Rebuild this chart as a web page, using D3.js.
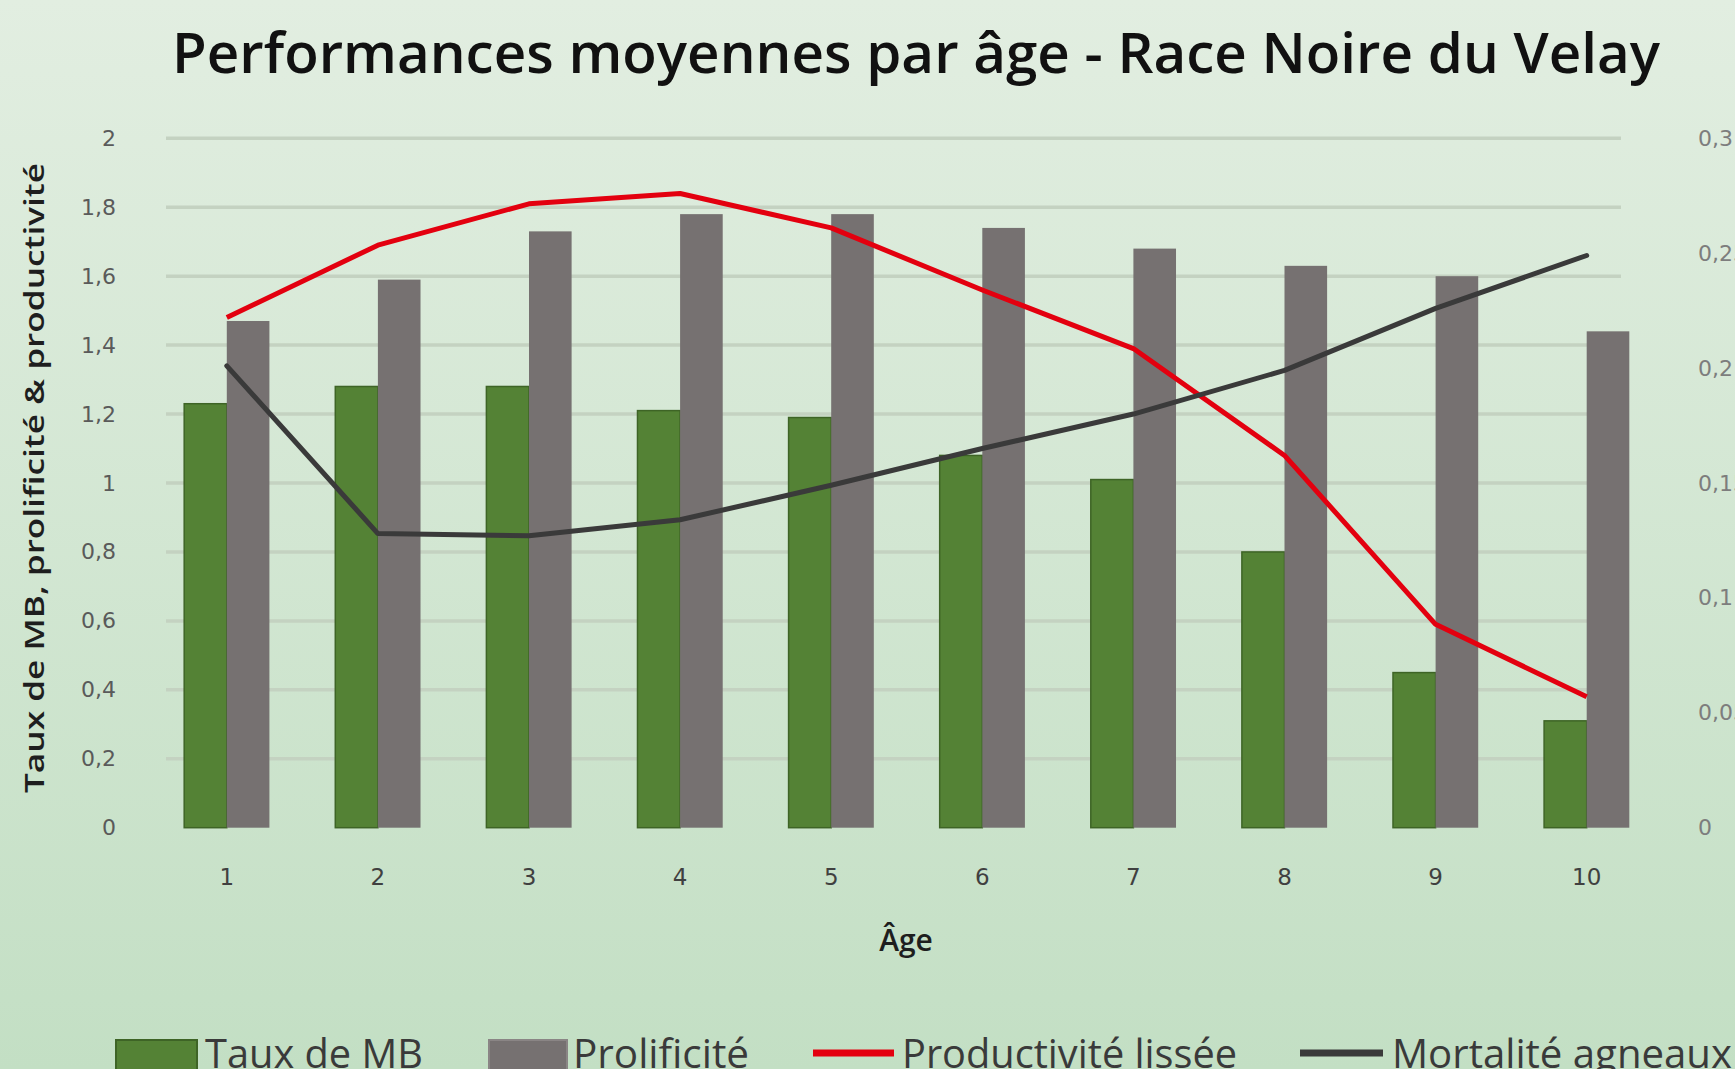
<!DOCTYPE html>
<html>
<head>
<meta charset="utf-8">
<script src="https://cdn.jsdelivr.net/npm/d3@7"></script>
<style>
  html, body { margin: 0; padding: 0; overflow: hidden; }
  svg { display: block; }
</style>
</head>
<body>
<svg id="chart" width="1735" height="1069"></svg>
<script>
// ---- data ----
const ages = ["1","2","3","4","5","6","7","8","9","10"];
const tauxMB = [1.23, 1.28, 1.28, 1.21, 1.19, 1.08, 1.01, 0.80, 0.45, 0.31];
const prolificite = [1.47, 1.59, 1.73, 1.78, 1.78, 1.74, 1.68, 1.63, 1.60, 1.44];
const productiviteLissee = [1.48, 1.69, 1.81, 1.84, 1.74, 1.56, 1.39, 1.08, 0.59, 0.38];
const mortaliteAgneaux = [0.201, 0.128, 0.127, 0.134, 0.149, 0.165, 0.180, 0.199, 0.226, 0.249];
const leftTicks = [0, 0.2, 0.4, 0.6, 0.8, 1, 1.2, 1.4, 1.6, 1.8, 2];
const rightTicks = [0, 0.05, 0.1, 0.15, 0.2, 0.25, 0.3];
const seriesNames = ["Taux de MB", "Prolificité", "Productivité lissée", "Mortalité agneaux"];
const title = "Performances moyennes par âge - Race Noire du Velay";
const yTitle = "Taux de MB, prolificité & productivité";
const xTitle = "Âge";

// ---- layout ----
const W = 1735, H = 1069;
const plotTop = 138.3, plotBottom = 827.7;
const gridX0 = 166, gridX1 = 1621;
const colGreen = "#548235", colGreenEdge = "#3e6426", colGrey = "#767171";
const colRed = "#e3000f", colBlack = "#3a3a3a";

const svg = d3.select("#chart");
const defs = svg.append("defs");
const grad = defs.append("linearGradient").attr("id","bg").attr("x1",0).attr("y1",0).attr("x2",0).attr("y2",1);
grad.append("stop").attr("offset","0%").attr("stop-color","#e2eee1");
grad.append("stop").attr("offset","100%").attr("stop-color","#c3dfc4");
svg.append("rect").attr("width",W).attr("height",H).attr("fill","url(#bg)");

const locale = d3.formatLocale({decimal: ",", thousands: " ", grouping: [3], currency: ["", " €"]});
const fmtL = locale.format(".1~f");
const fmtR = locale.format(".2~f");

const x0 = d3.scaleBand().domain(ages).range([151.25, 1662.25]).paddingInner(0.436).paddingOuter(0.218);
const x1 = d3.scaleBand().domain(["mb","prol"]).range([0, x0.bandwidth()]);
const yL = d3.scaleLinear().domain([0, 2]).range([plotBottom, plotTop]);
const yR = d3.scaleLinear().domain([0, 0.3]).range([plotBottom, plotTop]);

// gridlines
svg.append("g").selectAll("line").data(leftTicks.filter(v => v > 0)).join("line")
  .attr("x1", gridX0).attr("x2", gridX1)
  .attr("y1", d => yL(d)).attr("y2", d => yL(d))
  .attr("stroke", "#c4d2c1").attr("stroke-width", 3.5);

// bars
const groups = svg.append("g").selectAll("g").data(ages).join("g")
  .attr("transform", d => `translate(${x0(d)},0)`);
groups.append("rect")
  .attr("x", x1("mb")).attr("width", x1.bandwidth())
  .attr("y", (d,i) => yL(tauxMB[i])).attr("height", (d,i) => yL(0) - yL(tauxMB[i]))
  .attr("fill", colGreen).attr("stroke", colGreenEdge).attr("stroke-width", 1.5);
groups.append("rect")
  .attr("x", x1("prol")).attr("width", x1.bandwidth())
  .attr("y", (d,i) => yL(prolificite[i])).attr("height", (d,i) => yL(0) - yL(prolificite[i]))
  .attr("fill", colGrey);

// lines
const cx = a => x0(a) + x0.bandwidth() / 2;
const lineL = d3.line().x((d,i) => cx(ages[i])).y(d => yL(d));
const lineR = d3.line().x((d,i) => cx(ages[i])).y(d => yR(d));
svg.append("path").datum(productiviteLissee).attr("d", lineL)
  .attr("fill","none").attr("stroke", colRed).attr("stroke-width", 5).attr("stroke-linejoin","round");
svg.append("path").datum(mortaliteAgneaux).attr("d", lineR)
  .attr("fill","none").attr("stroke", colBlack).attr("stroke-width", 5).attr("stroke-linejoin","round").attr("stroke-linecap","round");

// axes
const axL = svg.append("g").attr("transform","translate(116,0)")
  .call(d3.axisLeft(yL).tickValues(leftTicks).tickFormat(fmtL).tickSize(0).tickPadding(0));
axL.select(".domain").remove();
axL.selectAll("text").attr("font-family","DejaVu Sans").attr("font-size",22).attr("fill","#5a5a5a");

const axR = svg.append("g").attr("transform","translate(1698,0)")
  .call(d3.axisRight(yR).tickValues(rightTicks).tickFormat(fmtR).tickSize(0).tickPadding(0));
axR.select(".domain").remove();
axR.selectAll("text").attr("font-family","DejaVu Sans").attr("font-size",22).attr("fill","#7d7d7d");

const axB = svg.append("g").attr("transform","translate(0,877)")
  .call(d3.axisBottom(x0).tickSize(0).tickPadding(0));
axB.select(".domain").remove();
axB.selectAll("text").attr("y",0).attr("dy","0.35em")
  .attr("font-family","DejaVu Sans").attr("font-size",23).attr("fill","#404040");

// titles
svg.append("text").attr("x", 916).attr("y", 73).attr("text-anchor","middle")
  .attr("font-family","Open Sans").attr("font-weight",600).attr("font-size",56).attr("fill","#111")
  .attr("textLength",1488).attr("lengthAdjust","spacingAndGlyphs").text(title);

svg.append("text").attr("transform","translate(33,478) rotate(-90)").attr("text-anchor","middle")
  .attr("dominant-baseline","central")
  .attr("font-family","Open Sans").attr("font-weight",600).attr("font-size",27).attr("fill","#1e1e1e")
  .attr("textLength",630).attr("lengthAdjust","spacingAndGlyphs").text(yTitle);

svg.append("text").attr("x", 906).attr("y", 951).attr("text-anchor","middle")
  .attr("font-family","Open Sans").attr("font-weight",600).attr("font-size",30).attr("fill","#1e1e1e")
  .text(xTitle);

// legend
const legend = [
  {name: seriesNames[0], type:"rect", color: colGreen, edge: colGreenEdge, s0:116, s1:197, t0:205, tw:218},
  {name: seriesNames[1], type:"rect", color: colGrey, edge: "#8a8585", s0:489, s1:567, t0:573, tw:176},
  {name: seriesNames[2], type:"line", color: colRed, s0:813, s1:894, t0:902, tw:335},
  {name: seriesNames[3], type:"line", color: colBlack, s0:1300, s1:1383, t0:1392, tw:340}
];
const lg = svg.append("g").selectAll("g").data(legend).join("g");
lg.filter(d => d.type === "rect").append("rect")
  .attr("x", d => d.s0).attr("y", 1040).attr("width", d => d.s1 - d.s0).attr("height", 40)
  .attr("fill", d => d.color).attr("stroke", d => d.edge).attr("stroke-width", 2);
lg.filter(d => d.type === "line").append("line")
  .attr("x1", d => d.s0).attr("x2", d => d.s1).attr("y1", 1053).attr("y2", 1053)
  .attr("stroke", d => d.color).attr("stroke-width", 7);
lg.append("text").attr("x", d => d.t0).attr("y", 1068)
  .attr("font-family","Open Sans").attr("font-size",40).attr("fill","#3a3a3a")
  .attr("textLength", d => d.tw).attr("lengthAdjust","spacingAndGlyphs")
  .text(d => d.name);
</script>
</body>
</html>
